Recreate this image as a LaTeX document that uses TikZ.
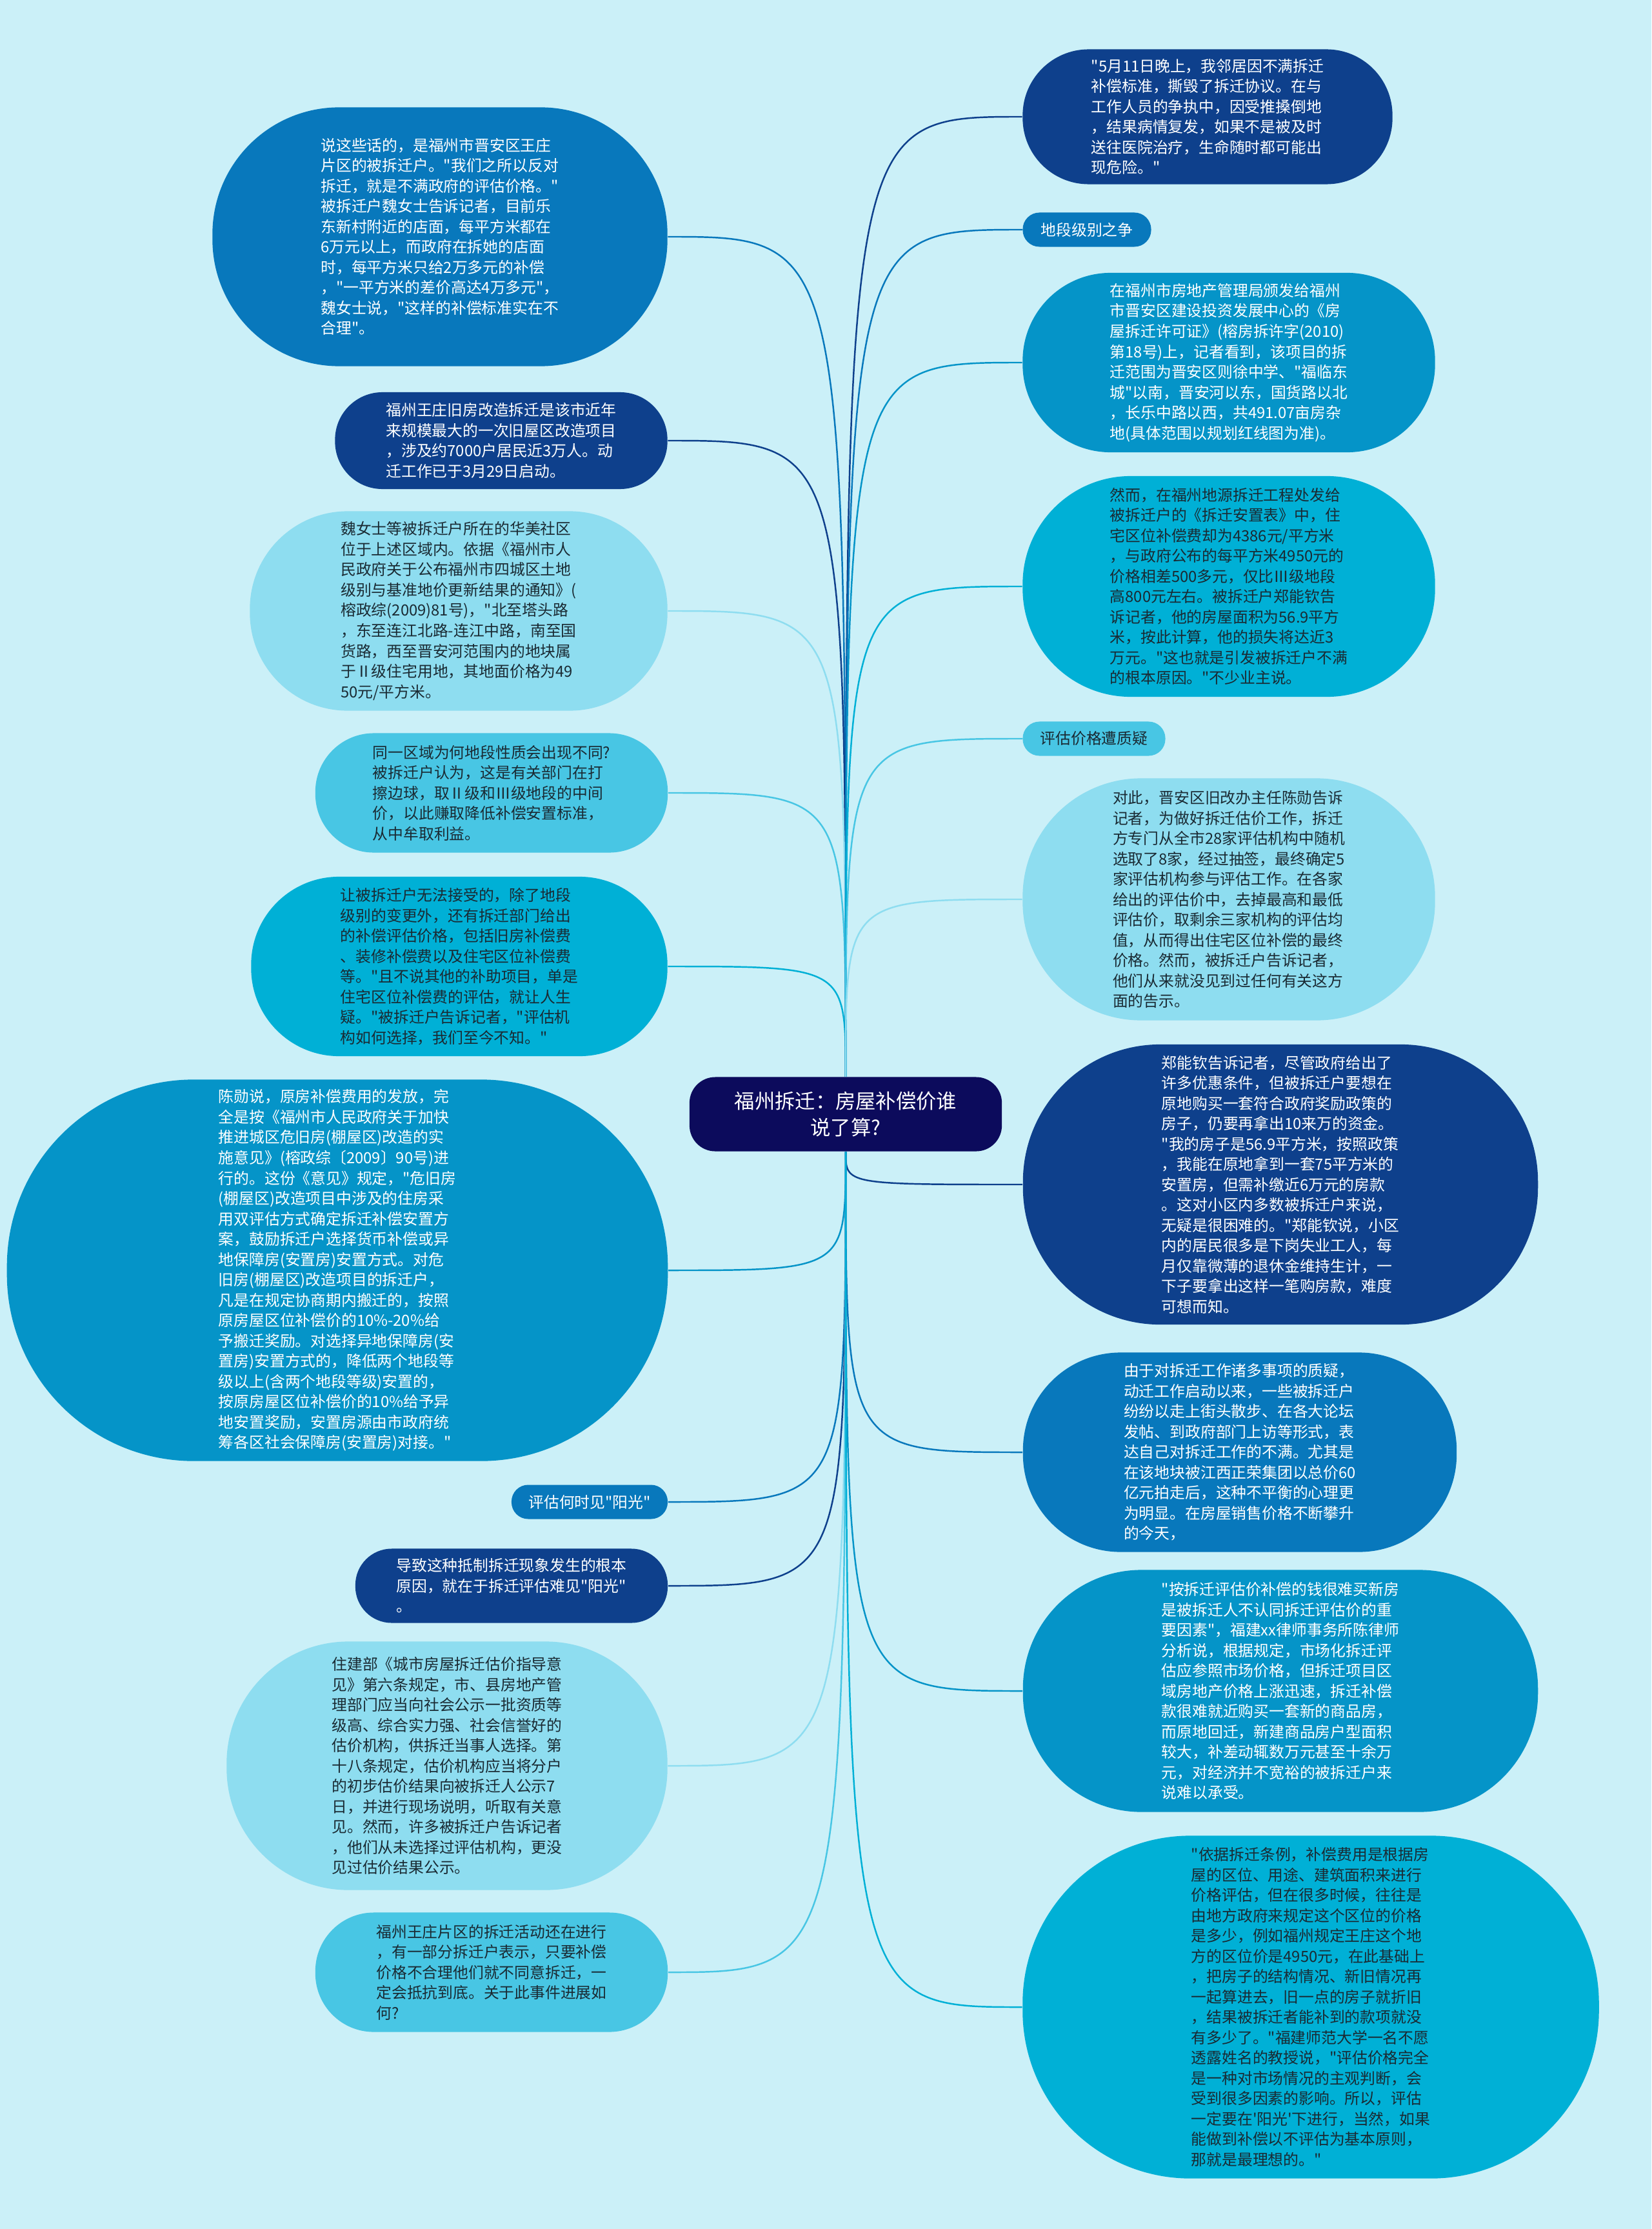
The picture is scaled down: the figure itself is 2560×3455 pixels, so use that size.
\documentclass[tikz,border=0pt]{standalone}
\usepackage{fontspec}
\newfontfamily\cjk{Noto Sans CJK SC}

\definecolor{bg}{RGB}{203,240,248}
\definecolor{navy}{RGB}{12,11,92}
\definecolor{dblue}{RGB}{14,64,140}
\definecolor{mblue}{RGB}{8,120,188}
\definecolor{cblue}{RGB}{5,148,200}
\definecolor{cyan}{RGB}{0,176,214}
\definecolor{lcyan}{RGB}{72,198,228}
\definecolor{pale}{RGB}{142,221,240}
\definecolor{ink}{RGB}{26,42,51}

\tikzset{
  leaf/.style n args={3}{fill=#1, minimum width=#2cm, minimum height=#3cm,
    rounded corners=0.49*#3cm, inner sep=0pt, align=left,
    font=\cjk\fontsize{6.77}{8.96}\selectfont},
  dk/.style={text=white},
  lt/.style={text=ink},
  link/.style={line width=0.7pt},
}

\begin{document}
\begin{tikzpicture}[x=0.01cm, y=-0.01cm]
  % Background and page size
  \fill[bg] (0,0) rectangle (2560,3455);
  \useasboundingbox (0,0) rectangle (2560,3455);

  % Central topic
  \node[leaf={navy}{4.84}{1.15}, dk, rounded corners=0.4cm, align=center,
        font=\cjk\fontsize{8.9}{11.9}\selectfont] (c) at (1311,1727)
    {福州拆迁：房屋补偿价谁\\说了算?};

  % Left side
  \node[leaf={mblue}{7.05}{4.01}, dk] (L1) at (682,367)
    {说这些话的，是福州市晋安区王庄\\
     片区的被拆迁户。"我们之所以反对\\
     拆迁，就是不满政府的评估价格。"\\
     被拆迁户魏女士告诉记者，目前乐\\
     东新村附近的店面，每平方米都在\\
     6万元以上，而政府在拆她的店面\\
     时，每平方米只给2万多元的补偿\\
     ，"一平方米的差价高达4万多元"，\\
     魏女士说，"这样的补偿标准实在不\\
     合理"。};
  \node[leaf={dblue}{5.15}{1.50}, dk] (L2) at (777,683)
    {福州王庄旧房改造拆迁是该市近年\\
     来规模最大的一次旧屋区改造项目\\
     ，涉及约7000户居民近3万人。动\\
     迁工作已于3月29日启动。};
  \node[leaf={pale}{6.47}{3.09}, lt] (L3) at (711,947)
    {魏女士等被拆迁户所在的华美社区\\
     位于上述区域内。依据《福州市人\\
     民政府关于公布福州市四城区土地\\
     级别与基准地价更新结果的通知》(\\
     榕政综(2009)81号)，"北至塔头路\\
     ，东至连江北路-连江中路，南至国\\
     货路，西至晋安河范围内的地块属\\
     于Ⅱ级住宅用地，其地面价格为49\\
     50元/平方米。};
  \node[leaf={lcyan}{5.46}{1.85}, lt] (L4) at (762,1229)
    {同一区域为何地段性质会出现不同?\\
     被拆迁户认为，这是有关部门在打\\
     擦边球，取Ⅱ级和Ⅲ级地段的中间\\
     价，以此赚取降低补偿安置标准，\\
     从中牟取利益。};
  \node[leaf={cyan}{6.45}{2.78}, lt] (L5) at (712,1498)
    {让被拆迁户无法接受的，除了地段\\
     级别的变更外，还有拆迁部门给出\\
     的补偿评估价格，包括旧房补偿费\\
     、装修补偿费以及住宅区位补偿费\\
     等。"且不说其他的补助项目，单是\\
     住宅区位补偿费的评估，就让人生\\
     疑。"被拆迁户告诉记者，"评估机\\
     构如何选择，我们至今不知。"};
  \node[leaf={cblue}{10.24}{5.91}, dk] (L6) at (523,1969)
    {陈勋说，原房补偿费用的发放，完\\
     全是按《福州市人民政府关于加快\\
     推进城区危旧房(棚屋区)改造的实\\
     施意见》(榕政综〔2009〕90号)进\\
     行的。这份《意见》规定，"危旧房\\
     (棚屋区)改造项目中涉及的住房采\\
     用双评估方式确定拆迁补偿安置方\\
     案，鼓励拆迁户选择货币补偿或异\\
     地保障房(安置房)安置方式。对危\\
     旧房(棚屋区)改造项目的拆迁户，\\
     凡是在规定协商期内搬迁的，按照\\
     原房屋区位补偿价的10\%-20\%给\\
     予搬迁奖励。对选择异地保障房(安\\
     置房)安置方式的，降低两个地段等\\
     级以上(含两个地段等级)安置的，\\
     按原房屋区位补偿价的10\%给予异\\
     地安置奖励，安置房源由市政府统\\
     筹各区社会保障房(安置房)对接。"};
  \node[leaf={mblue}{2.42}{0.53}, dk] (LA) at (914,2328)
    {评估何时见"阳光"};
  \node[leaf={dblue}{4.84}{1.15}, dk] (L7) at (793,2458)
    {导致这种抵制拆迁现象发生的根本\\
     原因，就在于拆迁评估难见"阳光"\\
     。};
  \node[leaf={pale}{6.83}{3.85}, lt] (L8) at (693,2737)
    {住建部《城市房屋拆迁估价指导意\\
     见》第六条规定，市、县房地产管\\
     理部门应当向社会公示一批资质等\\
     级高、综合实力强、社会信誉好的\\
     估价机构，供拆迁当事人选择。第\\
     十八条规定，估价机构应当将分户\\
     的初步估价结果向被拆迁人公示7\\
     日，并进行现场说明，听取有关意\\
     见。然而，许多被拆迁户告诉记者\\
     ，他们从未选择过评估机构，更没\\
     见过估价结果公示。};
  \node[leaf={lcyan}{5.46}{1.85}, lt] (L9) at (762,3057)
    {福州王庄片区的拆迁活动还在进行\\
     ，有一部分拆迁户表示，只要补偿\\
     价格不合理他们就不同意拆迁，一\\
     定会抵抗到底。关于此事件进展如\\
     何?};

  % Right side
  \node[leaf={dblue}{5.73}{2.09}, dk] (R1) at (1872,181)
    {"5月11日晚上，我邻居因不满拆迁\\
     补偿标准，撕毁了拆迁协议。在与\\
     工作人员的争执中，因受推搡倒地\\
     ，结果病情复发，如果不是被及时\\
     送往医院治疗，生命随时都可能出\\
     现危险。"};
  \node[leaf={mblue}{1.99}{0.53}, dk] (RB) at (1685,356)
    {地段级别之争};
  \node[leaf={cblue}{6.39}{2.78}, dk] (R3) at (1905,562)
    {在福州市房地产管理局颁发给福州\\
     市晋安区建设投资发展中心的《房\\
     屋拆迁许可证》(榕房拆许字(2010)\\
     第18号)上，记者看到，该项目的拆\\
     迁范围为晋安区则徐中学、"福临东\\
     城"以南，晋安河以东，国货路以北\\
     ，长乐中路以西，共491.07亩房杂\\
     地(具体范围以规划红线图为准)。};
  \node[leaf={cyan}{6.39}{3.42}, lt] (R4) at (1905,909)
    {然而，在福州地源拆迁工程处发给\\
     被拆迁户的《拆迁安置表》中，住\\
     宅区位补偿费却为4386元/平方米\\
     ，与政府公布的每平方米4950元的\\
     价格相差500多元，仅比Ⅲ级地段\\
     高800元左右。被拆迁户郑能钦告\\
     诉记者，他的房屋面积为56.9平方\\
     米，按此计算，他的损失将达近3\\
     万元。"这也就是引发被拆迁户不满\\
     的根本原因。"不少业主说。};
  \node[leaf={lcyan}{2.21}{0.53}, lt] (RC) at (1696,1145)
    {评估价格遭质疑};
  \node[leaf={pale}{6.39}{3.75}, lt] (R6) at (1905,1394)
    {对此，晋安区旧改办主任陈勋告诉\\
     记者，为做好拆迁估价工作，拆迁\\
     方专门从全市28家评估机构中随机\\
     选取了8家，经过抽签，最终确定5\\
     家评估机构参与评估工作。在各家\\
     给出的评估价中，去掉最高和最低\\
     评估价，取剩余三家机构的评估均\\
     值，从而得出住宅区位补偿的最终\\
     价格。然而，被拆迁户告诉记者，\\
     他们从来就没见到过任何有关这方\\
     面的告示。};
  \node[leaf={dblue}{7.98}{4.34}, dk] (R7) at (1985,1836)
    {郑能钦告诉记者，尽管政府给出了\\
     许多优惠条件，但被拆迁户要想在\\
     原地购买一套符合政府奖励政策的\\
     房子，仍要再拿出10来万的资金。\\
     "我的房子是56.9平方米，按照政策\\
     ，我能在原地拿到一套75平方米的\\
     安置房，但需补缴近6万元的房款\\
     。这对小区内多数被拆迁户来说，\\
     无疑是很困难的。"郑能钦说，小区\\
     内的居民很多是下岗失业工人，每\\
     月仅靠微薄的退休金维持生计，一\\
     下子要拿出这样一笔购房款，难度\\
     可想而知。};
  \node[leaf={mblue}{6.72}{3.09}, dk] (R8) at (1922,2251)
    {由于对拆迁工作诸多事项的质疑，\\
     动迁工作启动以来，一些被拆迁户\\
     纷纷以走上街头散步、在各大论坛\\
     发帖、到政府部门上访等形式，表\\
     达自己对拆迁工作的不满。尤其是\\
     在该地块被江西正荣集团以总价60\\
     亿元拍走后，这种不平衡的心理更\\
     为明显。在房屋销售价格不断攀升\\
     的今天，};
  \node[leaf={cblue}{7.98}{3.75}, dk] (R9) at (1985,2621)
    {"按拆迁评估价补偿的钱很难买新房\\
     是被拆迁人不认同拆迁评估价的重\\
     要因素"，福建xx律师事务所陈律师\\
     分析说，根据规定，市场化拆迁评\\
     估应参照市场价格，但拆迁项目区\\
     域房地产价格上涨迅速，拆迁补偿\\
     款很难就近购买一套新的商品房，\\
     而原地回迁，新建商品房户型面积\\
     较大，补差动辄数万元甚至十余万\\
     元，对经济并不宽裕的被拆迁户来\\
     说难以承受。};
  \node[leaf={cyan}{8.93}{5.31}, lt] (R10) at (2032,3111)
    {"依据拆迁条例，补偿费用是根据房\\
     屋的区位、用途、建筑面积来进行\\
     价格评估，但在很多时候，往往是\\
     由地方政府来规定这个区位的价格\\
     是多少，例如福州规定王庄这个地\\
     方的区位价是4950元，在此基础上\\
     ，把房子的结构情况、新旧情况再\\
     一起算进去，旧一点的房子就折旧\\
     ，结果被拆迁者能补到的款项就没\\
     有多少了。"福建师范大学一名不愿\\
     透露姓名的教授说，"评估价格完全\\
     是一种对市场情况的主观判断，会\\
     受到很多因素的影响。所以，评估\\
     一定要在'阳光'下进行，当然，如果\\
     能做到补偿以不评估为基本原则，\\
     那就是最理想的。"};

  % Connectors from the central topic
  \foreach \n/\c in {L1/mblue, L2/dblue, L3/pale, L4/lcyan, L5/cyan}
    \draw[link, color=\c] (c.north) .. controls (c.north |- \n.east) .. (\n.east);
  \foreach \n/\c in {R1/dblue, RB/mblue, R3/cblue, R4/cyan, RC/lcyan, R6/pale}
    \draw[link, color=\c] (c.north) .. controls (c.north |- \n.west) .. (\n.west);
  \foreach \n/\c in {L6/cblue, LA/mblue, L7/dblue, L8/pale, L9/lcyan}
    \draw[link, color=\c] (c.south) .. controls (c.south |- \n.east) .. (\n.east);
  \foreach \n/\c in {R7/dblue, R8/mblue, R9/cblue, R10/cyan}
    \draw[link, color=\c] (c.south) .. controls (c.south |- \n.west) .. (\n.west);

\end{tikzpicture}
\end{document}
